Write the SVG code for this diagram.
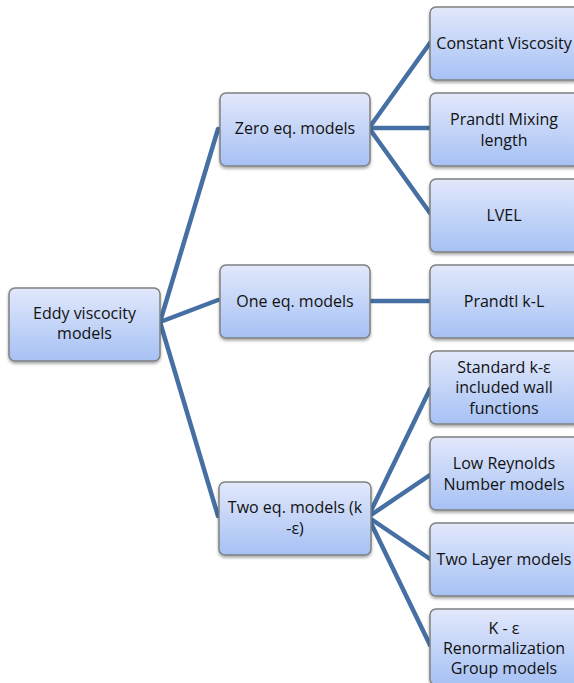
<svg xmlns="http://www.w3.org/2000/svg" width="574" height="683" viewBox="0 0 574 683">
  <defs>
    <linearGradient id="boxFill" x1="0" y1="0" x2="0" y2="1">
      <stop offset="0" stop-color="#e2e8fb"/>
      <stop offset="1" stop-color="#a6c1f4"/>
    </linearGradient>
    <filter id="shadow" x="-10%" y="-10%" width="130%" height="140%">
      <feGaussianBlur in="SourceAlpha" stdDeviation="1.5"/>
      <feOffset dx="0" dy="2" result="b"/>
      <feComponentTransfer><feFuncA type="linear" slope="0.35"/></feComponentTransfer>
      <feMerge><feMergeNode/><feMergeNode in="SourceGraphic"/></feMerge>
    </filter>
  </defs>
  <style>
    .box { fill: url(#boxFill); stroke: #7f8080; stroke-width: 1.5; filter: url(#shadow); }
    .lbl { font-family: "Open Sans", "Liberation Sans", sans-serif; font-size: 16px; fill: #111; text-anchor: middle; dominant-baseline: central; }
    .edge { stroke: #4670a4; stroke-width: 4.5; fill: none; stroke-linecap: round; }
  </style>
  <rect width="574" height="683" fill="#ffffff"/>

  <g id="connectors">
    <line class="edge" x1="160" y1="322" x2="218" y2="129"/>
    <line class="edge" x1="160" y1="322" x2="218" y2="300"/>
    <line class="edge" x1="160" y1="322" x2="218" y2="516"/>
    <line class="edge" x1="369" y1="128" x2="430" y2="43"/>
    <line class="edge" x1="369" y1="128" x2="430" y2="128"/>
    <line class="edge" x1="369" y1="128" x2="430" y2="213"/>
    <line class="edge" x1="369" y1="301" x2="430" y2="301"/>
    <line class="edge" x1="368" y1="517" x2="430" y2="389"/>
    <line class="edge" x1="368" y1="517" x2="430" y2="475"/>
    <line class="edge" x1="368" y1="517" x2="430" y2="559"/>
    <line class="edge" x1="368" y1="517" x2="430" y2="645"/>
  </g>

  <g id="eddy-viscosity">
    <rect class="box" x="9" y="288" width="151" height="73" rx="6"/>
    <text class="lbl" x="84.5" y="313">Eddy viscocity</text>
    <text class="lbl" x="84.5" y="333">models</text>
  </g>

  <g id="zero-eq">
    <rect class="box" x="220" y="93" width="150" height="73" rx="6"/>
    <text class="lbl" x="295" y="128">Zero eq. models</text>
  </g>
  <g id="one-eq">
    <rect class="box" x="220" y="265" width="150" height="73" rx="6"/>
    <text class="lbl" x="295" y="301">One eq. models</text>
  </g>
  <g id="two-eq">
    <rect class="box" x="219" y="482" width="152" height="73" rx="6"/>
    <text class="lbl" x="295" y="507">Two eq. models (k</text>
    <text class="lbl" x="295" y="528">-ε)</text>
  </g>

  <g id="constant-viscosity">
    <rect class="box" x="430" y="7" width="150" height="73" rx="6"/>
    <text class="lbl" x="504" y="43">Constant Viscosity</text>
  </g>
  <g id="prandtl-mixing">
    <rect class="box" x="430" y="93" width="150" height="73" rx="6"/>
    <text class="lbl" x="504" y="119">Prandtl Mixing</text>
    <text class="lbl" x="504" y="140">length</text>
  </g>
  <g id="lvel">
    <rect class="box" x="430" y="179" width="150" height="73" rx="6"/>
    <text class="lbl" x="504" y="215">LVEL</text>
  </g>
  <g id="prandtl-kl">
    <rect class="box" x="430" y="265" width="150" height="73" rx="6"/>
    <text class="lbl" x="504" y="301">Prandtl k-L</text>
  </g>
  <g id="standard-ke">
    <rect class="box" x="430" y="351" width="150" height="73" rx="6"/>
    <text class="lbl" x="504" y="367">Standard k-ε</text>
    <text class="lbl" x="504" y="387">included wall</text>
    <text class="lbl" x="504" y="408">functions</text>
  </g>
  <g id="low-reynolds">
    <rect class="box" x="430" y="437" width="150" height="73" rx="6"/>
    <text class="lbl" x="504" y="463">Low Reynolds</text>
    <text class="lbl" x="504" y="484">Number models</text>
  </g>
  <g id="two-layer">
    <rect class="box" x="430" y="523" width="150" height="73" rx="6"/>
    <text class="lbl" x="504" y="559">Two Layer models</text>
  </g>
  <g id="ke-rng">
    <rect class="box" x="430" y="609" width="150" height="76" rx="6"/>
    <text class="lbl" x="504" y="628">K - ε</text>
    <text class="lbl" x="504" y="648">Renormalization</text>
    <text class="lbl" x="504" y="668">Group models</text>
  </g>
</svg>
